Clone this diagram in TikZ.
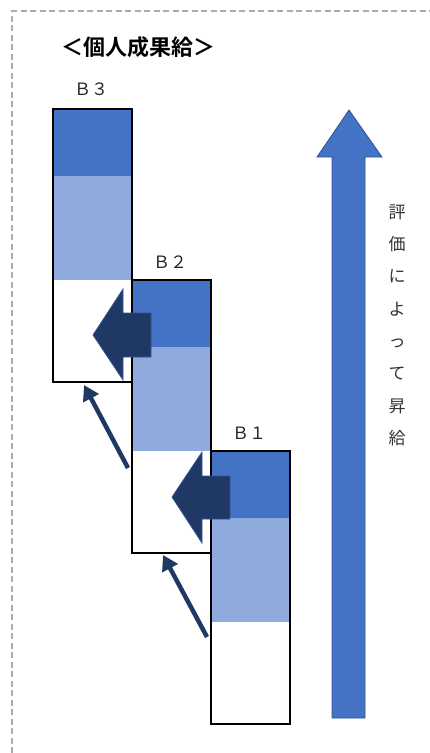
\documentclass[tikz,border=0pt]{standalone}
\usepackage{fontspec}
\newfontfamily\cjk{Noto Sans CJK JP}[BoldFont={Noto Sans CJK JP Bold}]
\usetikzlibrary{arrows.meta}
\definecolor{dkblue}{HTML}{4472C4}
\definecolor{ltblue}{HTML}{8FAADC}
\definecolor{navy}{HTML}{203864}
\definecolor{edgeblue}{HTML}{2F5597}
\definecolor{dashgray}{HTML}{ABABAB}
\tikzset{
  box/.style={draw=black, line width=1.6pt, minimum width=79pt, minimum height=273pt, inner sep=0pt, anchor=north west},
  lbl/.style={font=\cjk\fontsize{17}{17}\selectfont, text=black!85},
  blockarrow/.style={fill=navy, draw=edgeblue, line width=0.8pt},
  uparrow/.style={fill=dkblue, draw=edgeblue, line width=0.8pt},
  thinarrow/.style={draw=navy, line width=4.5pt, -{Triangle[width=17pt,length=15pt]}},
}
\begin{document}
\begin{tikzpicture}[x=1pt,y=-1pt]
\useasboundingbox (0,0) rectangle (430,753);
\draw[dashgray, line width=1.4pt, dash pattern=on 6pt off 3.5pt] (12,753) -- (12,11) -- (430,11);
\node[font=\cjk\bfseries\fontsize{22}{22}\selectfont, anchor=west] (title) at (58,47) {＜個人成果給＞};
% boxes
\foreach \nm/\x/\y in {b3/52/108, b2/131/279, b1/210/450} {
  \fill[dkblue] (\x,\y) rectangle ++(79,68);
  \fill[ltblue] (\x,\y+68) rectangle ++(79,104);
  \node[box] (\nm) at (\x,\y) {};
}
\node[lbl] (l3) at (91,89) {Ｂ３};
\node[lbl] (l2) at (170,262) {Ｂ２};
\node[lbl] (l1) at (249,433) {Ｂ１};
% block arrows
\draw[blockarrow] (93,335) -- (123,289) -- (123,313) -- (151,313) -- (151,357) -- (123,357) -- (123,380) -- cycle;
\draw[blockarrow] (172,497) -- (202,452) -- (202,476) -- (230,476) -- (230,519) -- (202,519) -- (202,543) -- cycle;
% thin arrows
\coordinate (t1s) at (128,468);
\coordinate (t1e) at (84,385);
\coordinate (t2s) at (207,637);
\coordinate (t2e) at (163,555);
\draw[thinarrow] (t1s) -- (t1e);
\draw[thinarrow] (t2s) -- (t2e);
% up arrow
\draw[uparrow] (349,110) -- (382,157) -- (365,157) -- (365,718) -- (332,718) -- (332,157) -- (317,157) -- cycle;
\node[font=\cjk\fontsize{17}{32.3}\selectfont, align=center, text=black!80, anchor=north] (vt) at (397,201) {評\\価\\に\\よ\\っ\\て\\昇\\給};
\end{tikzpicture}
\end{document}
